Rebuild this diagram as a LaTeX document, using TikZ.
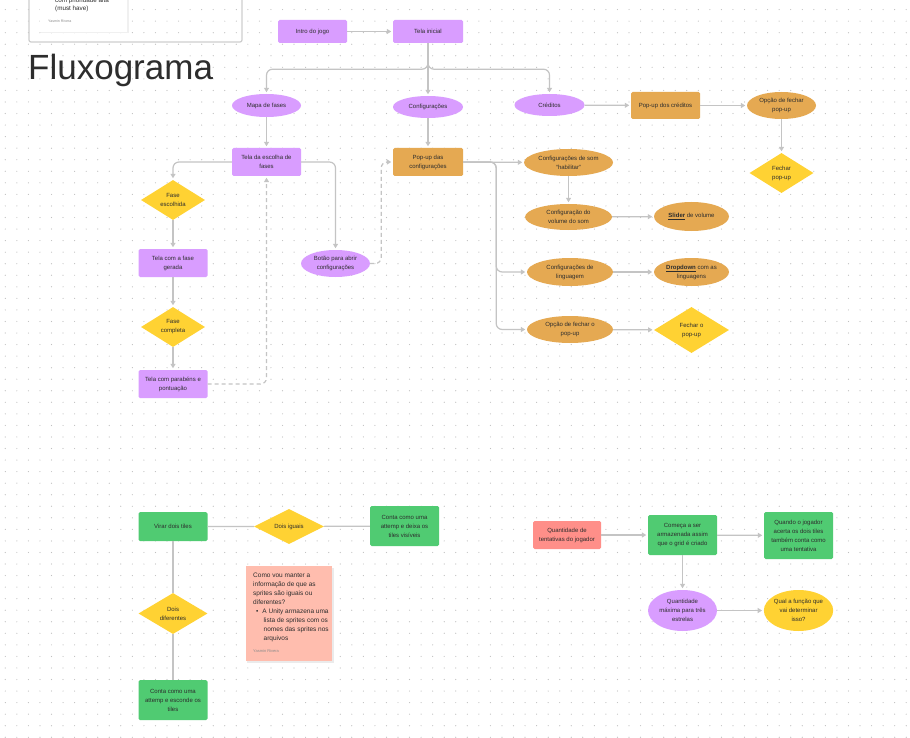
\documentclass[tikz,border=0pt]{standalone}
\usepackage{fontspec}
\setmainfont{Liberation Sans}
\usetikzlibrary{arrows.meta,shapes.geometric}
\definecolor{roxo}{RGB}{217,157,255}
\definecolor{laranja}{RGB}{229,169,82}
\definecolor{amarelo}{RGB}{255,210,51}
\definecolor{verde}{RGB}{80,203,114}
\definecolor{salmao}{RGB}{255,143,137}
\definecolor{nota}{RGB}{255,189,174}
\definecolor{linha}{RGB}{196,196,196}
\definecolor{ponto}{RGB}{192,192,192}
\definecolor{texto}{RGB}{45,45,45}
\definecolor{moldura}{RGB}{206,206,206}
\tikzset{
	forma/.style={inner sep=0pt, align=center, text=texto, font=\fontsize{6}{9}\selectfont},
	caixa/.style={forma, rectangle, rounded corners=1.5pt, minimum width=69pt, minimum height=28pt},
	elipse/.style={forma, ellipse, minimum width=69pt, minimum height=27pt},
	losango/.style={forma, diamond, fill=amarelo, minimum width=64pt, minimum height=40pt},
	seta/.style={draw=linha, line width=1.2pt, shorten >=1.5pt, -{Triangle[width=5pt,length=4.5pt]}},
	ligacao/.style={draw=linha, line width=1.2pt},
	tracejado/.style={dash pattern=on 4pt off 3pt}
}
\begin{document}
\begin{tikzpicture}[x=1pt,y=-1pt]
	\fill[white] (0,0) rectangle (910,738);
	\useasboundingbox (0,0) rectangle (910,738);
	\foreach \i in {0,...,78}
		\foreach \j in {0,...,63}
			\fill[ponto] (5.3+\i*11.55,9.6+\j*11.55) circle (0.6pt);
	
	\draw[moldura, line width=1.2pt, rounded corners=2pt] (29,-10) rectangle (242,42);
	\fill[black!6] (41,-10) rectangle (128.5,33.5);
	\fill[white] (40,-10) rectangle (127,32);
	\node[forma, anchor=west, font=\fontsize{6.3}{8}\selectfont] (prioridade) at (55,0.5) {com prioridade alta};
	\node[forma, anchor=west, font=\fontsize{6.3}{8}\selectfont] (mustHave) at (55,9) {(must have)};
	\node[forma, anchor=west, text=black!45, font=\fontsize{3.6}{4}\selectfont] (autoraTopo) at (48,21.5) {Yasmin Rivera};
	\node[anchor=base west, inner sep=0pt, text=texto, font=\fontsize{35}{35}\selectfont] (titulo) at (28,80) {Fluxograma};
	
	\node[caixa, fill=roxo, minimum height=23pt] (intro) at (312.5,31.5) {Intro do jogo};
	\node[caixa, fill=roxo, minimum height=23pt, minimum width=70pt] (telaInicial) at (428,31.5) {Tela inicial};
	\node[elipse, fill=roxo, minimum height=23pt] (mapa) at (266.5,105.5) {Mapa de fases};
	\node[elipse, fill=roxo, minimum height=22pt, minimum width=70pt] (config) at (428,107) {Configurações};
	\node[elipse, fill=roxo, minimum height=22pt, minimum width=70pt] (creditos) at (549.5,105) {Créditos};
	\node[caixa, fill=laranja, minimum height=27pt] (popCreditos) at (665.5,105.5) {Pop-up dos créditos};
	\node[elipse, fill=laranja] (opcFecharCred) at (781.5,105.5) {Opção de fechar\\pop-up};
	\node[losango] (fecharCred) at (781.5,173) {Fechar\\pop-up};
	
	\node[caixa, fill=roxo] (escolha) at (266.5,162) {Tela da escolha de\\fases};
	\node[caixa, fill=laranja, minimum width=70pt] (popConfig) at (428,162) {Pop-up das\\configurações};
	\node[losango] (faseEsc) at (173,200) {Fase\\escolhida};
	\node[elipse, fill=roxo] (botao) at (335.5,263.5) {Botão para abrir\\configurações};
	\node[caixa, fill=roxo] (faseGer) at (173,263) {Tela com a fase\\gerada};
	\node[losango] (faseComp) at (173,327) {Fase\\completa};
	\node[caixa, fill=roxo] (parabens) at (173,384) {Tela com parabéns e\\pontuação};
	
	\node[elipse, fill=laranja, minimum width=89pt] (som) at (568.5,162.5) {Configurações de som\\“habilitar”};
	\node[elipse, fill=laranja, minimum width=87pt, minimum height=26pt] (volume) at (568.5,217) {Configuração do\\volume do som};
	\node[elipse, fill=laranja, minimum width=75pt, minimum height=29pt] (slider) at (691.5,216.5) {\underline{\textbf{Slider}} de volume};
	\node[elipse, fill=laranja, minimum width=86pt, minimum height=28pt] (linguagem) at (570,272) {Configurações de\\linguagem};
	\node[elipse, fill=laranja, minimum width=75pt, minimum height=28pt] (dropdown) at (691.5,272) {\underline{\textbf{Dropdown}} com as\\linguagens};
	\node[elipse, fill=laranja, minimum width=86pt] (opcFechar) at (570,329.5) {Opção de fechar o\\pop-up};
	\node[losango, minimum width=75pt, minimum height=46pt] (fecharPop) at (691.5,330) {Fechar o\\pop-up};
	
	\draw[seta] (intro) -- (telaInicial);
	\draw[seta, rounded corners=6pt] (telaInicial.south) -- ++(0,26) -| (mapa.north);
	\draw[seta, rounded corners=6pt] (telaInicial.south) -- ++(0,26) -| (creditos.north);
	\draw[seta] (telaInicial) -- (config);
	\draw[seta] (creditos) -- (popCreditos);
	\draw[seta] (popCreditos) -- (opcFecharCred);
	\draw[seta] (opcFecharCred) -- (fecharCred);
	\draw[seta] (mapa) -- (escolha);
	\draw[seta] (config) -- (popConfig);
	\draw[seta, rounded corners=6pt] (escolha.west) -| (faseEsc.north);
	\draw[seta, rounded corners=6pt] (escolha.east) -| (botao.north);
	\draw[seta, tracejado, rounded corners=6pt] (botao.east) -- ++(11,0) |- (popConfig.west);
	\draw[seta] (faseEsc) -- (faseGer);
	\draw[seta] (faseGer) -- (faseComp);
	\draw[seta] (faseComp) -- (parabens);
	\draw[seta, tracejado, rounded corners=6pt] (parabens.east) -| (escolha.south);
	\draw[seta] (popConfig) -- (som);
	\draw[seta, rounded corners=6pt] (popConfig.east) -- ++(33,0) |- (linguagem.west);
	\draw[seta, rounded corners=6pt] (popConfig.east) -- ++(33,0) |- (opcFechar.west);
	\draw[seta] (som) -- (volume);
	\draw[seta] (volume) -- (slider);
	\draw[seta] (linguagem) -- (dropdown);
	\draw[seta] (opcFechar) -- (fecharPop);
	
	\node[caixa, fill=verde, minimum height=29pt] (virar) at (173,526.5) {Virar dois tiles};
	\node[losango, minimum width=70pt, minimum height=29pt] (iguais) at (289,526.5) {Dois iguais};
	\node[caixa, fill=verde, minimum height=40pt] (contaVis) at (404.5,526) {Conta como uma\\attemp e deixa os\\tiles visíveis};
	\node[losango, minimum width=69pt, minimum height=41pt] (diferentes) at (173,613.5) {Dois\\diferentes};
	\node[caixa, fill=verde, minimum height=40pt] (contaEsc) at (173,700) {Conta como uma\\attemp e esconde os\\tiles};
	\draw[ligacao] (virar) -- (iguais) -- (contaVis);
	\draw[ligacao] (virar) -- (diferentes) -- (contaEsc);
	
	\fill[black!8] (247,567.5) rectangle (333.5,663);
	\fill[nota] (246,566) rectangle (332,661);
	\node[forma, anchor=north west, align=left, font=\fontsize{6.5}{8.9}\selectfont] (duvida) at (253,573) {Como vou manter a\\informação de que as\\sprites são iguais ou\\diferentes?\\\hspace*{3pt}\textbullet\hspace{4pt}A Unity armazena uma\\\hspace*{10.5pt}lista de sprites com os\\\hspace*{10.5pt}nomes das sprites nos\\\hspace*{10.5pt}arquivos};
	\node[forma, anchor=west, text=black!45, font=\fontsize{4}{4}\selectfont] (autoraNota) at (253,651) {Yasmin Rivera};
	
	\node[caixa, fill=salmao, minimum width=68pt] (tentativas) at (567,535) {Quantidade de\\tentativas do jogador};
	\node[caixa, fill=verde, minimum height=40pt] (armazena) at (682.5,535) {Começa a ser\\armazenada assim\\que o grid é criado};
	\node[caixa, fill=verde, minimum height=47pt] (acerta) at (798.5,535.5) {Quando o jogador\\acerta os dois tiles\\também conta como\\uma tentativa};
	\node[elipse, fill=roxo, minimum height=41pt] (maxima) at (682.5,610.5) {Quantidade\\máxima para três\\estrelas};
	\node[elipse, fill=amarelo, minimum height=41pt] (funcao) at (798.5,610.5) {Qual a função que\\vai determinar\\isso?};
	\draw[seta] (tentativas) -- (armazena);
	\draw[seta] (armazena) -- (acerta);
	\draw[seta] (armazena) -- (maxima);
	\draw[seta] (maxima) -- (funcao);
\end{tikzpicture}
\end{document}
